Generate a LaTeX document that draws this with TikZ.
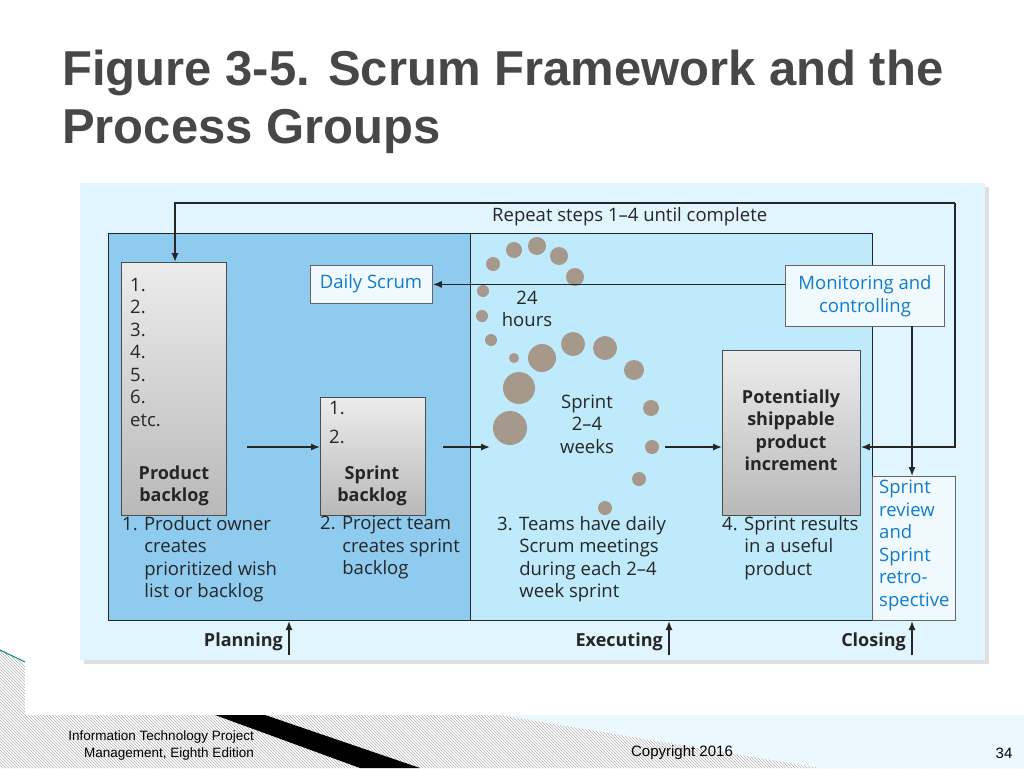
\documentclass[tikz,border=0pt]{standalone}
\usepackage{fontspec}
\setmainfont{Liberation Sans}
\newfontfamily\dfont{Open Sans}
\usetikzlibrary{patterns,arrows.meta}
\begin{document}
\begin{tikzpicture}[x=1pt,y=-1pt,
  lbl/.style={font=\dfont\fontsize{18.5}{22.5}\selectfont,text=black!85,inner sep=0pt},
  blbl/.style={lbl,font=\dfont\bfseries\fontsize{18}{22.5}\selectfont},
  blu/.style={lbl,text=cyan!60!blue},
  gbox/.style={draw=black!70,line width=0.8pt,top color=gray!15,bottom color=gray!55},
  wbox/.style={draw=black!60,line width=0.8pt,fill=white!94!cyan},
  arr/.style={-{Latex[length=9pt,width=7pt]},line width=1.3pt,black!85},
  ln/.style={line width=1.3pt,black!85},
  dot/.style={fill=gray!75!brown!80,draw=none}]
\useasboundingbox (0,0) rectangle (1024,768);
\fill[white] (0,0) rectangle (1024,768);
% bottom-left decoration
\fill[pattern=north west lines,pattern color=gray!60] (0,650) -- (80,695) -- (80,715) -- (400,768) -- (0,768) -- cycle;
\fill[pattern=north west lines,pattern color=gray!60] (80,715) -- (640,715) -- (1024,768) -- (400,768) -- cycle;
\fill[cyan!8] (500,715) -- (1024,715) -- (1024,768) -- (820,768)-- cycle;
\fill[black] (215,715) -- (265,715) -- (420,768) -- (360,768) -- cycle;
\draw[teal,line width=1pt] (0,650) -- (25,662);
\fill[white] (25,640) rectangle (1024,715);
% title
\node[anchor=north west,align=left,text=black!72,font=\bfseries\fontsize{49}{58}\selectfont,inner sep=0pt] (title) at (62,50) {Figure 3-5. Scrum Framework and the\\Process Groups};
% card
\fill[gray!25] (84,187) rectangle (989,664);
\fill[cyan!12!white] (80,183) rectangle (985,660);
\fill[cyan!40!white!92!blue] (108,233) rectangle (470,620);
\fill[cyan!25!white] (470,233) rectangle (872,620);
\draw[ln,line width=1pt] (108,233) rectangle (872,620);
\draw[ln,line width=1pt] (470,233) -- (470,620);
% dots
\foreach \x/\y/\r in {493/264/7,514/250/8,537/246/9,559/256/9,575/277/9,483/291/6,482/316/6,491/340/6,514/358/5,542/358/14,573/344/12,605/348/12,634/370/10,519/388/16,510/428/17,651/408/8,652/447/7,639/479/7,605/508/7}
  \fill[dot] (\x,\y) circle (\r);
% boxes
\node[gbox,minimum width=105pt,minimum height=253pt,anchor=north west] (pb) at (121,262) {};
\node[lbl,anchor=north west,align=left] at (130,278) {1.\\2.\\3.\\4.\\5.\\6.\\etc.};
\node[blbl,align=center] at (174,486) {Product\\backlog};
\node[gbox,minimum width=105pt,minimum height=118pt,anchor=north west] (sb) at (320,397) {};
\node[lbl,anchor=north west,align=left] at (329,401) {1.\\[7pt]2.};
\node[blbl,align=center] at (372,486) {Sprint\\backlog};
\node[gbox,minimum width=138pt,minimum height=165pt,anchor=north west] (pp) at (722,350) {};
\node[blbl,align=center] at (791,430) {Potentially\\shippable\\product\\increment};
\node[wbox,minimum width=122pt,minimum height=38pt,anchor=north west] (ds) at (310,265) {};
\node[blu] at (371,284) {Daily Scrum};
\node[wbox,minimum width=159pt,minimum height=61pt,anchor=north west] (mc) at (785,265) {};
\node[blu,align=center] at (865,296) {Monitoring and\\controlling};
\node[wbox,minimum width=83pt,minimum height=144pt,anchor=north west] (sr) at (872,476) {};
\node[blu,align=left,anchor=north west] at (879,480) {Sprint\\review\\and\\Sprint\\retro-\\spective};
% labels
\node[lbl,anchor=west] at (492,217) {Repeat steps 1–4 until complete};
\node[lbl,align=center] at (527,309) {24\\hours};
\node[lbl,align=center] at (587,424) {Sprint\\2–4\\weeks};
\node[lbl,align=left,anchor=north west] at (122,516) {1. Product owner\\\hspace*{1.2em}creates\\\hspace*{1.2em}prioritized wish\\\hspace*{1.2em}list or backlog};
\node[lbl,align=left,anchor=north west] at (320,516) {2. Project team\\\hspace*{1.2em}creates sprint\\\hspace*{1.2em}backlog};
\node[lbl,align=left,anchor=north west] at (497,516) {3. Teams have daily\\\hspace*{1.2em}Scrum meetings\\\hspace*{1.2em}during each 2–4\\\hspace*{1.2em}week sprint};
\node[lbl,align=left,anchor=north west] at (722,516) {4. Sprint results\\\hspace*{1.2em}in a useful\\\hspace*{1.2em}product};
\node[blbl,anchor=east] (pl) at (283,642) {Planning};
\node[blbl,anchor=east] (ex) at (663,642) {Executing};
\node[blbl,anchor=east] (cl) at (906,642) {Closing};
% connectors
\coordinate (c1) at (175,203); \coordinate (c2) at (955,203); \coordinate (c3) at (955,447);
\draw[arr] (c2) -- (c1) -- (pb.north -| c1);
\draw[arr] (c2) -- (c3) -- (pp.east |- c3);
\draw[arr] (mc.west |- ds.east) -- (ds.east);
\draw[arr] (912,326) -- (sr.north -| 912,0);
\draw[arr] (247,447) -- (sb.west |- 0,447);
\draw[arr] (443,447) -- (490,447);
\draw[arr] (665,447) -- (pp.west |- 0,447);
\coordinate (p1) at (289,655); \coordinate (p2) at (669,655); \coordinate (p3) at (912,655);
\draw[arr] (p1) -- (289,621);
\draw[arr] (p2) -- (669,621);
\draw[arr] (p3) -- (912,621);
% footer
\node[align=right,font=\fontsize{13.5}{17}\selectfont,anchor=north east,inner sep=0pt] (ft) at (254,731) {Information Technology Project\\Management, Eighth Edition};
\node[font=\fontsize{15}{17}\selectfont,inner sep=0pt] (cp) at (682,753) {Copyright 2016};
\node[font=\fontsize{15}{17}\selectfont,inner sep=0pt] (pg) at (1004,753) {34};
\end{tikzpicture}
\end{document}
